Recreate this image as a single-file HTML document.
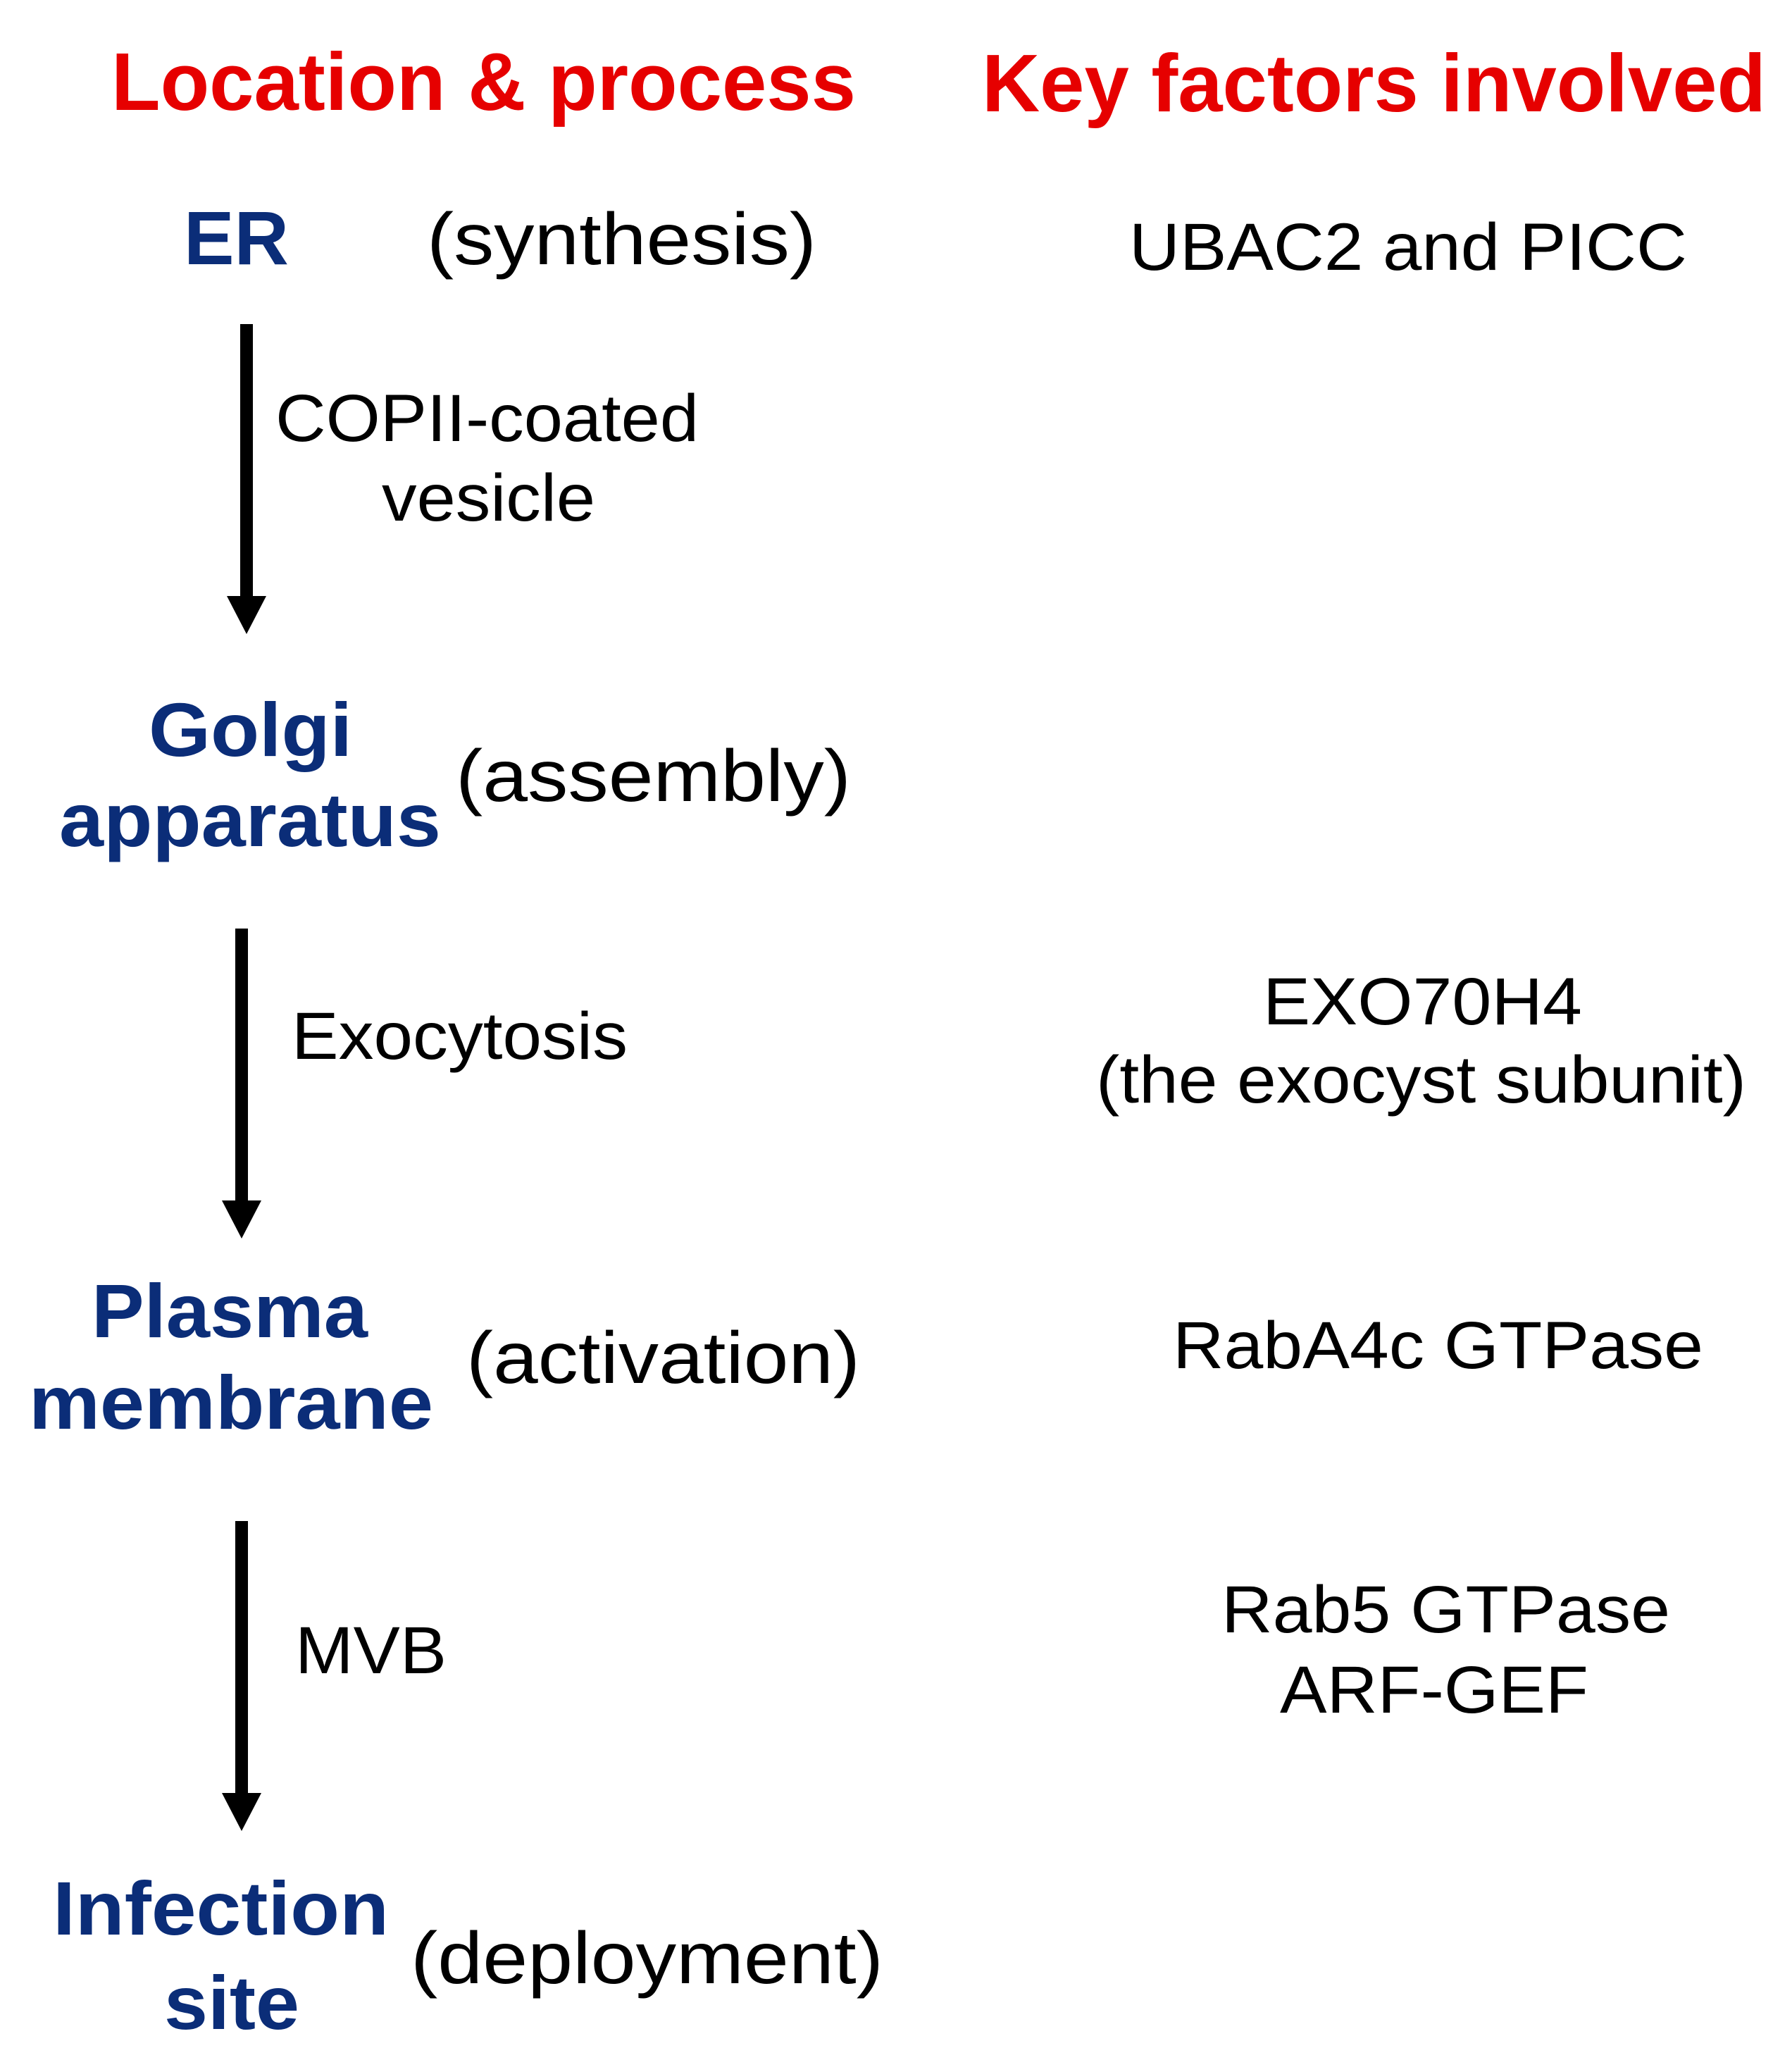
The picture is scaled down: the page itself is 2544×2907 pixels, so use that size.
<!DOCTYPE html>
<html><head><style>html,body{margin:0;padding:0;background:#fff}svg{display:block}</style></head>
<body>
<svg width="2544" height="2907" xmlns="http://www.w3.org/2000/svg" font-family="'Liberation Sans', Arial, sans-serif">
<g fill="#e60000" font-weight="bold" font-size="116">
<text x="158" y="156" textLength="1057" lengthAdjust="spacingAndGlyphs">Location &amp; process</text>
<text x="1394" y="158" textLength="1113" lengthAdjust="spacingAndGlyphs">Key factors involved</text>
</g>
<g fill="#0b2d78" font-weight="bold" font-size="108">
<text x="261" y="375" textLength="149" lengthAdjust="spacingAndGlyphs">ER</text>
<text x="211" y="1073" textLength="289" lengthAdjust="spacingAndGlyphs">Golgi</text>
<text x="84" y="1201" textLength="542" lengthAdjust="spacingAndGlyphs">apparatus</text>
<text x="130" y="1898" textLength="392" lengthAdjust="spacingAndGlyphs">Plasma</text>
<text x="41" y="2028" textLength="574" lengthAdjust="spacingAndGlyphs">membrane</text>
<text x="75" y="2746" textLength="477" lengthAdjust="spacingAndGlyphs">Infection</text>
<text x="233" y="2880" textLength="192" lengthAdjust="spacingAndGlyphs">site</text>
</g>
<g fill="#000" font-size="104">
<text x="606" y="375" textLength="553" lengthAdjust="spacingAndGlyphs">(synthesis)</text>
<text x="647" y="1137" textLength="561" lengthAdjust="spacingAndGlyphs">(assembly)</text>
<text x="662" y="1963" textLength="559" lengthAdjust="spacingAndGlyphs">(activation)</text>
<text x="583" y="2815" textLength="671" lengthAdjust="spacingAndGlyphs">(deployment)</text>
</g>
<g fill="#000" font-size="95">
<text x="1603" y="383" textLength="792" lengthAdjust="spacingAndGlyphs">UBAC2 and PICC</text>
<text x="391" y="626" textLength="601" lengthAdjust="spacingAndGlyphs">COPII-coated</text>
<text x="542" y="739" textLength="303" lengthAdjust="spacingAndGlyphs">vesicle</text>
<text x="414" y="1503" textLength="477" lengthAdjust="spacingAndGlyphs">Exocytosis</text>
<text x="1793" y="1454" textLength="453" lengthAdjust="spacingAndGlyphs">EXO70H4</text>
<text x="1556" y="1565" textLength="923" lengthAdjust="spacingAndGlyphs">(the exocyst subunit)</text>
<text x="1665" y="1942" textLength="753" lengthAdjust="spacingAndGlyphs">RabA4c GTPase</text>
<text x="419" y="2375" textLength="215" lengthAdjust="spacingAndGlyphs">MVB</text>
<text x="1734" y="2317" textLength="637" lengthAdjust="spacingAndGlyphs">Rab5 GTPase</text>
<text x="1817" y="2431" textLength="438" lengthAdjust="spacingAndGlyphs">ARF-GEF</text>
</g>
<g fill="#000">
<rect x="341" y="460" width="18" height="388"/>
<polygon points="322,846 378,846 350,900"/>
<rect x="334" y="1318" width="18" height="388"/>
<polygon points="315,1704 371,1704 343,1758"/>
<rect x="334" y="2159" width="18" height="388"/>
<polygon points="315,2545 371,2545 343,2599"/>
</g>
</svg>
</body></html>
